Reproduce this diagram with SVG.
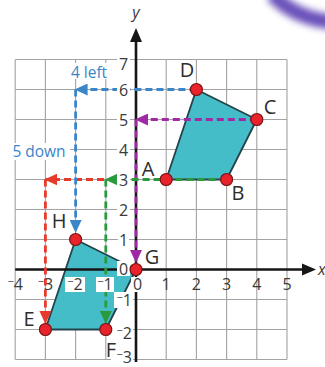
<svg xmlns="http://www.w3.org/2000/svg" width="325" height="367" viewBox="0 0 325 367">
<style>
.grid{stroke:#a3a3a3;stroke-width:1.1;fill:none}
.axis{stroke:#161616;stroke-width:2.6;fill:none}
.num{font-family:"Open Sans","Liberation Sans",sans-serif;font-size:16px;fill:#3a3a3a}
.lbl{font-family:"Open Sans","Liberation Sans",sans-serif;font-size:20px;fill:#2e2e2e}
.note{font-family:"Open Sans","Liberation Sans",sans-serif;font-size:15.5px;fill:#3a86c8}
.bg{fill:#ffffff}
.shape{fill:#44bdc9;stroke:#24434a;stroke-width:1.8;stroke-linejoin:round}
.pt{fill:#e8232b;stroke:#7a1414;stroke-width:1.2}
.dash{fill:none;stroke-width:2.8;stroke-dasharray:7 4}
.blue{stroke:#3a86c8}
.purple{stroke:#a02aa6}
.green{stroke:#2a9a3c}
.red{stroke:#e83a2a}
</style>
<defs>
<marker id="ab" markerUnits="userSpaceOnUse" markerWidth="14" markerHeight="12" refX="12" refY="6" orient="auto"><path d="M0,0 L13,6 L0,12 Z" fill="#3a86c8"/></marker>
<marker id="ap" markerUnits="userSpaceOnUse" markerWidth="14" markerHeight="12" refX="12" refY="6" orient="auto"><path d="M0,0 L13,6 L0,12 Z" fill="#a02aa6"/></marker>
<marker id="ag" markerUnits="userSpaceOnUse" markerWidth="14" markerHeight="12" refX="12" refY="6" orient="auto"><path d="M0,0 L13,6 L0,12 Z" fill="#2a9a3c"/></marker>
<marker id="ar" markerUnits="userSpaceOnUse" markerWidth="14" markerHeight="12" refX="12" refY="6" orient="auto"><path d="M0,0 L13,6 L0,12 Z" fill="#e83a2a"/></marker>
<filter id="blur" x="-50%" y="-50%" width="200%" height="200%"><feGaussianBlur stdDeviation="3.5"/></filter>
</defs>
<rect width="325" height="367" fill="#ffffff"/>
<path d="M272,-6 Q294,18 332,22" stroke="#5a3db2" stroke-width="15" fill="none" filter="url(#blur)" opacity="0.9"/>

<g id="grid" class="grid">
<path d="M15.2,59.5V359.5M45.4,59.5V359.5M75.6,59.5V359.5M105.8,59.5V359.5M166.2,59.5V359.5M196.4,59.5V359.5M226.6,59.5V359.5M256.8,59.5V359.5M287,59.5V359.5"/>
<path d="M15.2,59.5H287M15.2,89.5H287M15.2,119.5H287M15.2,149.5H287M15.2,179.5H287M15.2,209.5H287M15.2,239.5H287M15.2,299.5H287M15.2,329.5H287M15.2,359.5H287"/>
</g>

<g id="shape-ABCD"><polygon class="shape" points="166.2,179.5 226.6,179.5 256.8,119.5 196.4,89.5"/></g>
<g id="shape-EFGH"><polygon class="shape" points="45.4,329.5 105.8,329.5 136,269.5 75.6,239.5"/></g>

<g id="axes">
<path class="axis" d="M15.2,269.5H304"/>
<path d="M302,263.5 L316,269.5 L302,275.5 Z" fill="#161616"/>
<path class="axis" d="M136,362V40"/>
<path d="M130,42 L136,28 L142,42 Z" fill="#161616"/>
<text x="318" y="275" class="num" font-style="italic" font-size="16">x</text>
<text x="136" y="18" class="num" font-style="italic" font-size="17" text-anchor="middle">y</text>
</g>

<g id="connectors">
<path class="dash red" d="M104,179.5H45.4" marker-end="url(#ar)"/>
<path class="dash red" d="M45.4,179.5V323" marker-end="url(#ar)"/>
<path class="dash blue" d="M196.4,89.5H75.6" marker-end="url(#ab)"/>
<path class="dash blue" d="M75.6,89.5V232" marker-end="url(#ab)"/>
<path class="dash purple" d="M256.8,119.5H136" marker-end="url(#ap)"/>
<path class="dash purple" d="M136,119.5V262" marker-end="url(#ap)"/>
<path class="dash green" d="M226.6,179.5H105.8" marker-end="url(#ag)"/>
<path class="dash green" d="M105.8,179.5V323" marker-end="url(#ag)"/>
</g>

<g id="labels">
<rect class="bg" x="117" y="56" width="13" height="16"/><text class="num" x="123.5" y="70" text-anchor="middle">7</text>
<rect class="bg" x="117" y="82" width="13" height="16"/><text class="num" x="123.5" y="95.5" text-anchor="middle">6</text>
<rect class="bg" x="117" y="112" width="13" height="16"/><text class="num" x="123.5" y="125.5" text-anchor="middle">5</text>
<rect class="bg" x="117" y="142" width="13" height="16"/><text class="num" x="123.5" y="155.5" text-anchor="middle">4</text>
<rect class="bg" x="117" y="172" width="13" height="16"/><text class="num" x="123.5" y="185.5" text-anchor="middle">3</text>
<rect class="bg" x="117" y="202" width="13" height="16"/><text class="num" x="123.5" y="215.5" text-anchor="middle">2</text>
<rect class="bg" x="118" y="232" width="11" height="16"/><text class="num" x="123.5" y="245.5" text-anchor="middle">1</text>
<rect class="bg" x="117" y="261" width="13" height="15"/><text class="num" x="123.5" y="275" text-anchor="middle">0</text>
<rect class="bg" x="114" y="292" width="19" height="16"/><text class="num" x="132" y="306" text-anchor="end"><tspan font-size="11" dy="-5">−</tspan><tspan dy="5">1</tspan></text>
<rect class="bg" x="111" y="325" width="22" height="16"/><text class="num" x="132" y="339" text-anchor="end"><tspan font-size="11" dy="-5">−</tspan><tspan dy="5">2</tspan></text>
<rect class="bg" x="111" y="351" width="22" height="16"/><text class="num" x="132" y="363" text-anchor="end"><tspan font-size="11" dy="-5">−</tspan><tspan dy="5">3</tspan></text>

<text class="num" x="15.2" y="290" text-anchor="middle"><tspan font-size="11" dy="-5">−</tspan><tspan dy="5">4</tspan></text>
<text class="num" x="45.4" y="290" text-anchor="middle"><tspan font-size="11" dy="-5">−</tspan><tspan dy="5">3</tspan></text>
<rect class="bg" x="65" y="277" width="20" height="15"/><text class="num" x="75" y="290" text-anchor="middle"><tspan font-size="11" dy="-5">−</tspan><tspan dy="5">2</tspan></text>
<rect class="bg" x="96" y="277" width="18" height="15"/><text class="num" x="105" y="290" text-anchor="middle"><tspan font-size="11" dy="-5">−</tspan><tspan dy="5">1</tspan></text>
<rect class="bg" x="131" y="277" width="14" height="15"/><text class="num" x="137.5" y="290" text-anchor="middle">0</text>
<text class="num" x="166.2" y="290" text-anchor="middle">1</text>
<text class="num" x="196.4" y="290" text-anchor="middle">2</text>
<text class="num" x="226.6" y="290" text-anchor="middle">3</text>
<text class="num" x="256.8" y="290" text-anchor="middle">4</text>
<text class="num" x="287" y="290" text-anchor="middle">5</text>

<rect class="bg" x="67" y="63" width="45" height="16"/><text class="note" x="89" y="78" text-anchor="middle">4 left</text>
<rect class="bg" x="7" y="143" width="63" height="17"/><text class="note" x="39" y="157" text-anchor="middle">5 down</text>
</g>

<g id="point-A"><circle class="pt" cx="166.2" cy="179.5" r="6"/><text class="lbl" x="148" y="176" text-anchor="middle">A</text></g>
<g id="point-B"><circle class="pt" cx="226.6" cy="179.5" r="6"/><text class="lbl" x="238" y="200" text-anchor="middle">B</text></g>
<g id="point-C"><circle class="pt" cx="256.8" cy="119.5" r="6"/><text class="lbl" x="270" y="114" text-anchor="middle">C</text></g>
<g id="point-D"><circle class="pt" cx="196.4" cy="89.5" r="6"/><text class="lbl" x="187" y="77" text-anchor="middle">D</text></g>
<g id="point-E"><circle class="pt" cx="45.4" cy="329.5" r="6"/><text class="lbl" x="29" y="326" text-anchor="middle">E</text></g>
<g id="point-F"><circle class="pt" cx="105.8" cy="329.5" r="6"/><text class="lbl" x="111" y="357" text-anchor="middle">F</text></g>
<g id="point-G"><circle class="pt" cx="136" cy="269.5" r="6"/><text class="lbl" x="152" y="264" text-anchor="middle">G</text></g>
<g id="point-H"><circle class="pt" cx="75.6" cy="239.5" r="6"/><text class="lbl" x="59" y="228" text-anchor="middle">H</text></g>
</svg>
